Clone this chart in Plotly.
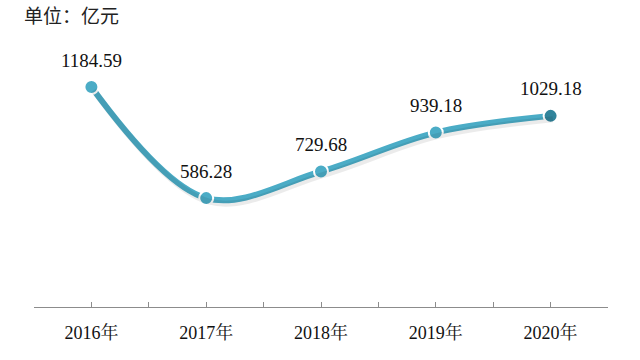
import plotly.graph_objects as go

years = ["2016年", "2017年", "2018年", "2019年", "2020年"]
values = [1184.59, 586.28, 729.68, 939.18, 1029.18]
labels = ["1184.59", "586.28", "729.68", "939.18", "1029.18"]
unit_text = "单位：亿元"

xs = list(range(len(years)))
line_color = "#4BACC6"
marker_colors = [line_color] * (len(values) - 1) + ["#31849B"]
serif = "'Liberation Serif', 'Times New Roman', 'Noto Serif CJK SC', serif"

fig = go.Figure()

# soft shadow under the line (same data, slightly offset axes)
fig.add_trace(go.Scatter(
    x=xs, y=values, mode="lines", xaxis="x2", yaxis="y2",
    line=dict(color="rgba(0,0,0,0.08)", width=6, shape="spline", smoothing=1.0),
    hoverinfo="skip", showlegend=False))

fig.add_trace(go.Scatter(
    x=xs, y=values, mode="lines+markers",
    line=dict(color=line_color, width=6, shape="spline", smoothing=1.0),
    marker=dict(size=14, color=marker_colors, line=dict(color="white", width=2)),
    showlegend=False))

for x, y, t in zip(xs, values, labels):
    fig.add_annotation(x=x, y=y, text=t, showarrow=False, yshift=27,
                       font=dict(family=serif, size=19, color="#111"))

tickvals = [i * 0.5 - 0.5 for i in range(2 * len(years) + 1)]
ticktext = [years[int(v)] if float(v).is_integer() else "" for v in tickvals]

yr = [0, 1400]
fig.update_layout(
    width=640, height=360,
    margin=dict(l=34, r=32, t=47, b=53),
    paper_bgcolor="white", plot_bgcolor="white",
    title=dict(text=unit_text, x=24/640, xanchor="left", xref="container",
               y=1 - 16/360, yanchor="middle", yref="container",
               font=dict(family="Noto Sans CJK SC", size=19, color="#222")),
    xaxis=dict(range=[-0.5, 4.5], tickvals=tickvals, ticktext=ticktext,
               showgrid=False, zeroline=False, showline=True, linecolor="#8c8c8c",
               linewidth=1, ticks="inside", ticklen=5, tickcolor="#8c8c8c",
               ticklabelstandoff=9,
               tickfont=dict(family=serif, size=18, color="#111"),
               fixedrange=True),
    xaxis2=dict(range=[-0.5 - 0.02, 4.5 - 0.02], overlaying="x", visible=False),
    yaxis=dict(range=yr, visible=False, showgrid=False, zeroline=False),
    yaxis2=dict(range=[yr[0] + 18, yr[1] + 18], overlaying="y", visible=False),
)

fig.write_html("out.html")
